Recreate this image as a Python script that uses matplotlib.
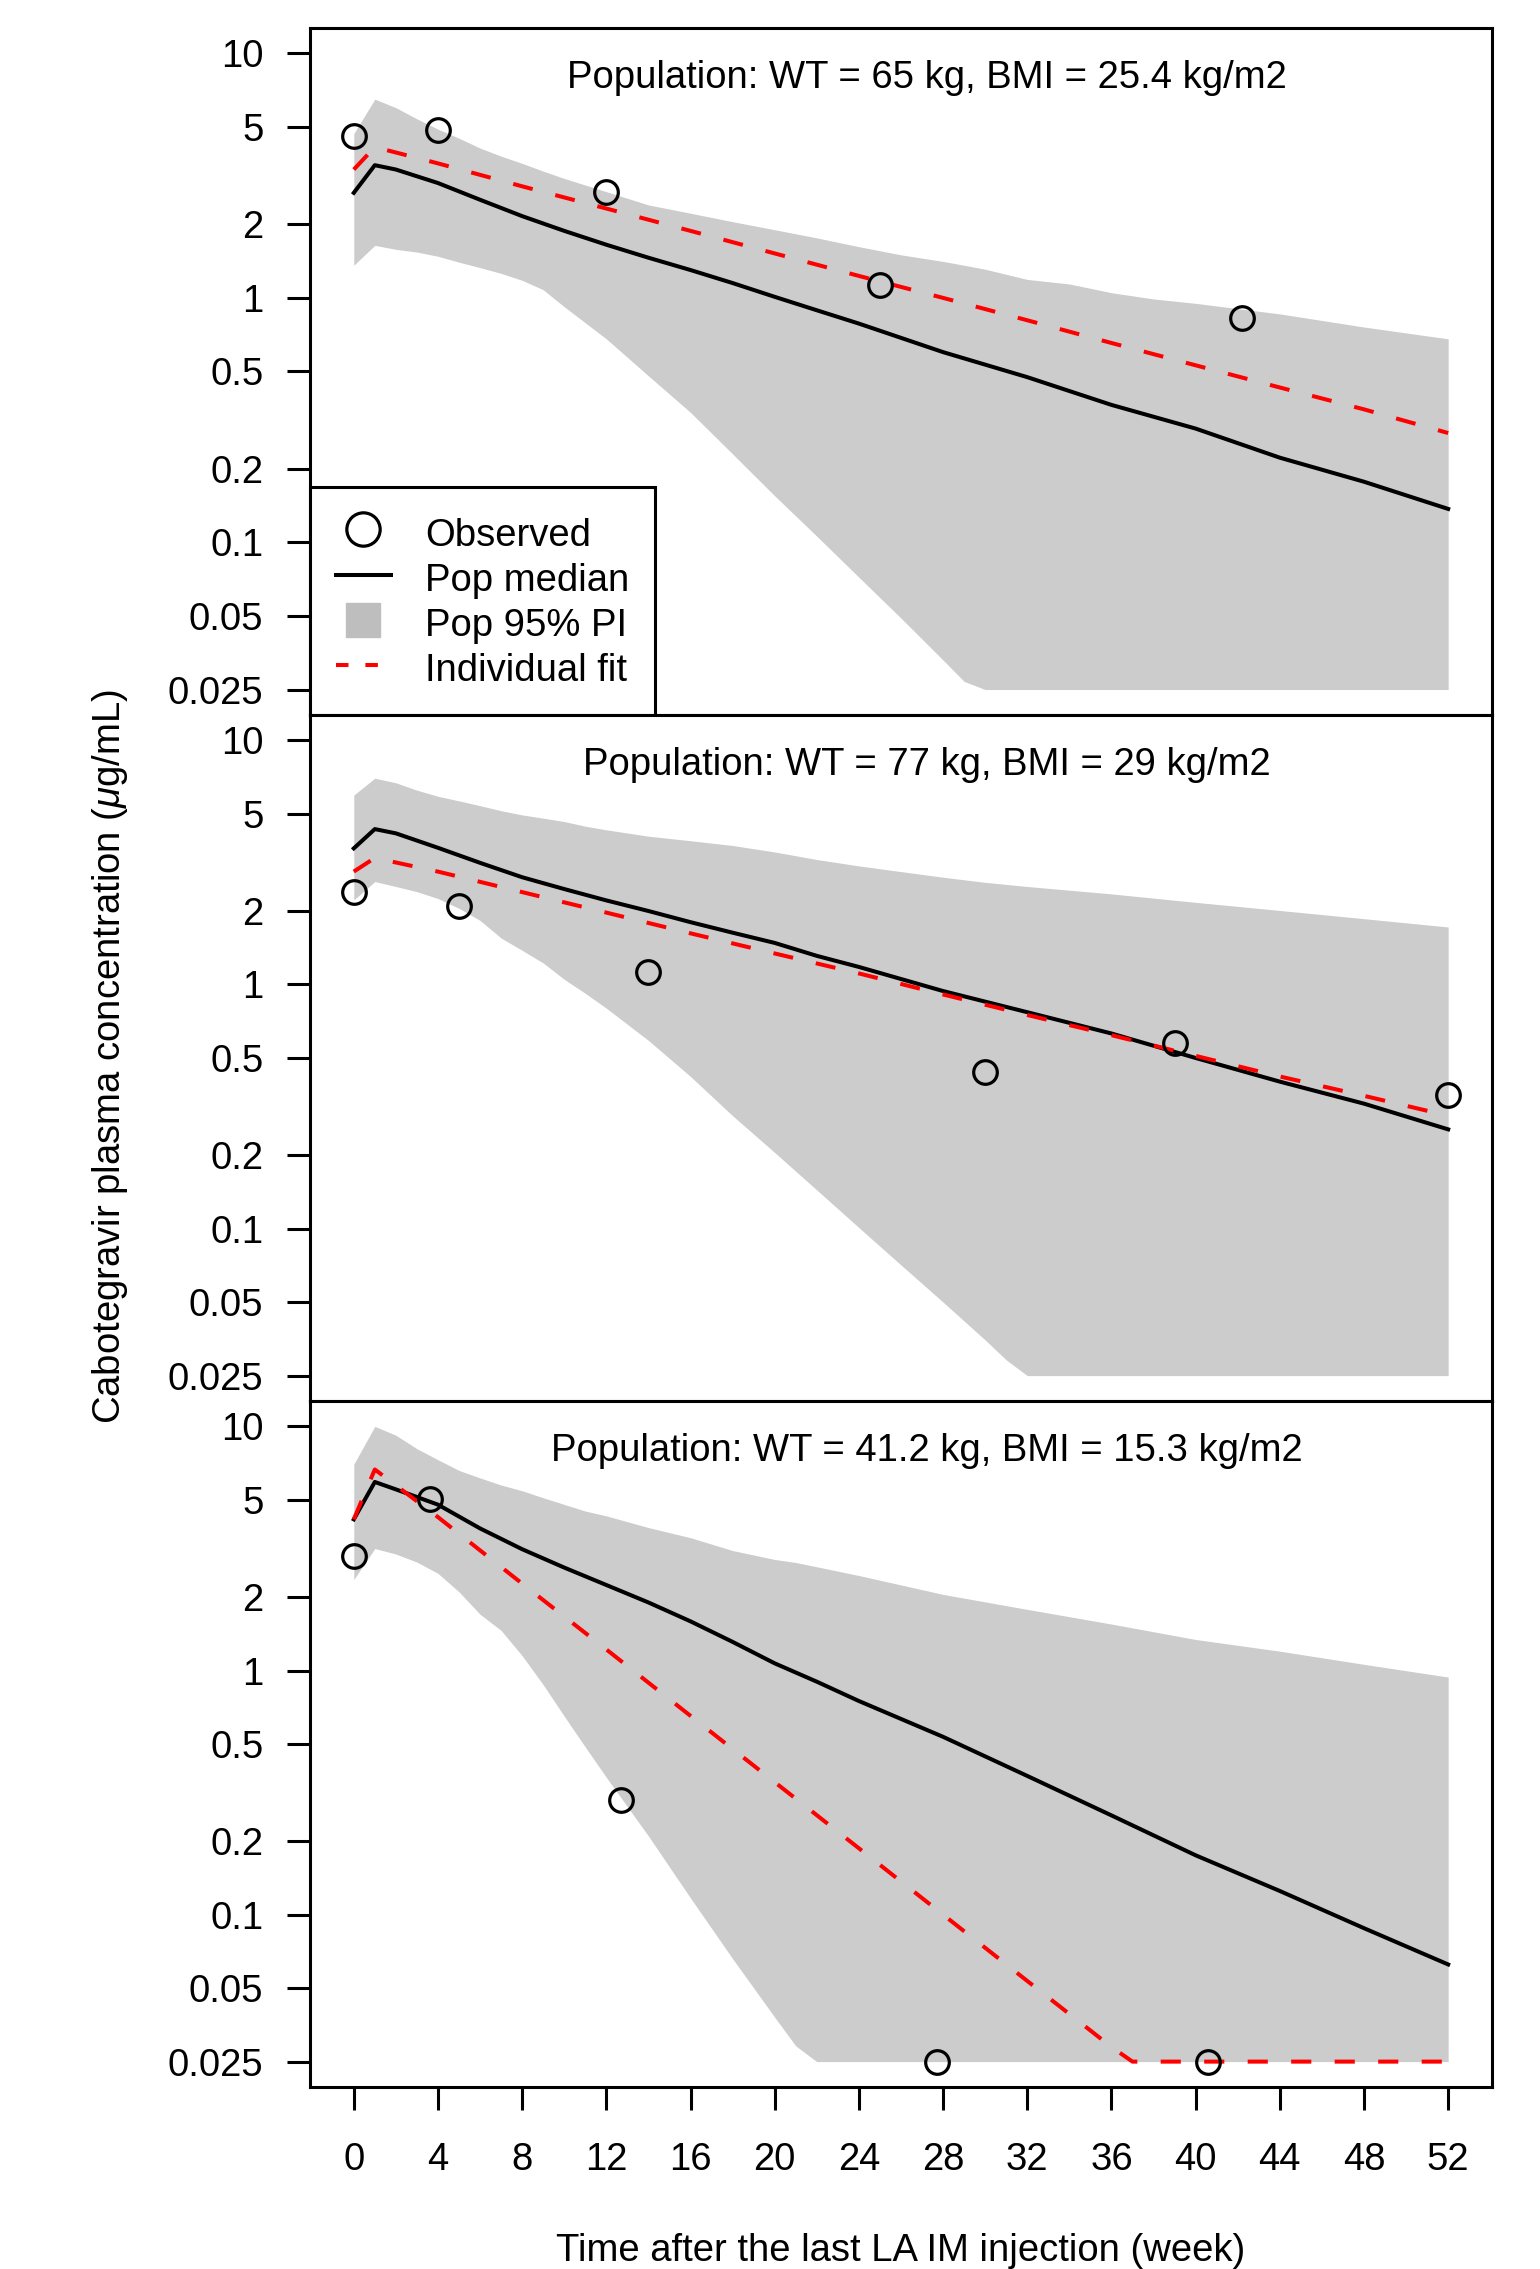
import matplotlib
matplotlib.use("Agg")
import matplotlib.pyplot as plt
from matplotlib.lines import Line2D
from matplotlib.ticker import NullLocator

plt.rcParams['font.family'] = ['Liberation Sans', 'DejaVu Sans']
plt.rcParams['mathtext.fontset'] = 'custom'
plt.rcParams['mathtext.rm'] = 'Liberation Sans'
plt.rcParams['mathtext.it'] = 'Liberation Sans:italic'

titles = ["Population: WT = 65 kg, BMI = 25.4 kg/m2",
          "Population: WT = 77 kg, BMI = 29 kg/m2",
          "Population: WT = 41.2 kg, BMI = 15.3 kg/m2"]

# observed concentrations
obs_wk = [[0, 4, 12, 25, 42.2],
          [0, 5, 14, 30, 39, 52],
          [0, 3.6, 12.7, 27.7, 40.6]]
obs_conc = [[4.6, 4.85, 2.7, 1.13, 0.825],
            [2.39, 2.09, 1.13, 0.44, 0.577, 0.353],
            [2.95, 5.04, 0.296, 0.025, 0.025]]

# population median
med_wk = [0, 1, 2, 4, 6, 8, 10, 12, 14, 16, 18, 20, 22, 24, 28, 32, 36, 40, 44, 48, 52]
med_conc = [[2.69, 3.49, 3.35, 2.95, 2.52, 2.16, 1.88, 1.65, 1.46, 1.30, 1.15, 1.01, 0.89, 0.785, 0.60, 0.474, 0.365, 0.292, 0.222, 0.177, 0.137],
            [3.61, 4.33, 4.16, 3.63, 3.15, 2.75, 2.46, 2.21, 2.00, 1.80, 1.63, 1.48, 1.31, 1.18, 0.94, 0.77, 0.63, 0.50, 0.40, 0.325, 0.255],
            [4.16, 5.92, 5.52, 4.78, 3.82, 3.14, 2.64, 2.24, 1.90, 1.59, 1.31, 1.07, 0.90, 0.75, 0.535, 0.37, 0.255, 0.175, 0.125, 0.088, 0.0625]]

# individual fit
fit_wk = [[0, 1, 4, 8, 12, 16, 20, 24, 28, 32, 36, 40, 44, 48, 52],
          [0, 1, 4, 8, 12, 16, 20, 24, 28, 32, 36, 40, 44, 48, 52],
          [0, 1, 4, 8, 12, 16, 20, 24, 28, 32, 36, 37, 40, 44, 48, 52]]
fit_conc = [[3.35, 4.14, 3.55, 2.86, 2.32, 1.88, 1.52, 1.23, 1.0, 0.81, 0.654, 0.53, 0.43, 0.35, 0.28],
            [2.90, 3.3, 2.90, 2.39, 1.97, 1.62, 1.34, 1.11, 0.91, 0.75, 0.62, 0.51, 0.42, 0.35, 0.29],
            [4.16, 6.66, 4.25, 2.27, 1.22, 0.652, 0.349, 0.187, 0.100, 0.0535, 0.0287, 0.025, 0.025, 0.025, 0.025, 0.025]]

# population 95% PI
pi_wk = [[0, 1, 2, 3, 4, 5, 6, 7, 8, 9, 10, 12, 14, 16, 18, 20, 22, 24, 26, 28, 29, 30, 32, 34, 36, 38, 40, 44, 48, 52],
         [0, 1, 2, 3, 4, 5, 6, 7, 8, 9, 10, 11, 12, 14, 16, 18, 20, 22, 24, 26, 28, 30, 31, 32, 36, 40, 44, 48, 52],
         [0, 1, 2, 3, 4, 5, 6, 7, 8, 9, 10, 11, 12, 14, 16, 18, 20, 21, 22, 24, 28, 32, 36, 40, 44, 48, 52]]
pi_hi = [[4.7, 6.5, 6.0, 5.4, 4.9, 4.5, 4.1, 3.8, 3.55, 3.3, 3.08, 2.72, 2.40, 2.22, 2.05, 1.90, 1.76, 1.62, 1.50, 1.41, 1.36, 1.31, 1.19, 1.14, 1.05, 0.99, 0.95, 0.86, 0.76, 0.68],
         [5.97, 7.0, 6.7, 6.25, 5.9, 5.65, 5.4, 5.15, 4.95, 4.8, 4.65, 4.45, 4.3, 4.05, 3.88, 3.71, 3.49, 3.25, 3.06, 2.90, 2.75, 2.62, 2.57, 2.52, 2.35, 2.17, 2.01, 1.86, 1.72],
         [7.0, 10.0, 9.2, 8.1, 7.3, 6.6, 6.15, 5.75, 5.45, 5.1, 4.79, 4.5, 4.3, 3.85, 3.5, 3.1, 2.85, 2.77, 2.66, 2.45, 2.05, 1.78, 1.55, 1.34, 1.2, 1.06, 0.94]]
pi_lo = [[1.36, 1.64, 1.58, 1.54, 1.48, 1.40, 1.33, 1.26, 1.18, 1.08, 0.92, 0.68, 0.48, 0.34, 0.23, 0.155, 0.106, 0.072, 0.049, 0.033, 0.027, 0.025, 0.025, 0.025, 0.025, 0.025, 0.025, 0.025, 0.025, 0.025],
         [2.22, 2.64, 2.52, 2.40, 2.25, 2.05, 1.83, 1.55, 1.38, 1.225, 1.05, 0.92, 0.80, 0.59, 0.42, 0.29, 0.205, 0.144, 0.101, 0.071, 0.050, 0.035, 0.029, 0.025, 0.025, 0.025, 0.025, 0.025, 0.025],
         [2.36, 3.16, 3.0, 2.78, 2.5, 2.1, 1.7, 1.46, 1.15, 0.875, 0.65, 0.486, 0.365, 0.21, 0.117, 0.066, 0.038, 0.029, 0.025, 0.025, 0.025, 0.025, 0.025, 0.025, 0.025, 0.025, 0.025]]

yticks = [10, 5, 2, 1, 0.5, 0.2, 0.1, 0.05, 0.025]
ytick_labels = ["10", "5", "2", "1", "0.5", "0.2", "0.1", "0.05", "0.025"]
xticks = list(range(0, 53, 4))

fs = 27.5
lw_axis = 2.2
lw_line = 2.9

fig = plt.figure(figsize=(15.4, 22.69), dpi=100)
bottoms = [0.6849, 0.38255, 0.08021]
heights = [0.30276, 0.30235, 0.30234]

for i in range(3):
    ax = fig.add_axes([0.2013, bottoms[i], 0.7675, heights[i]])
    ax.fill_between(pi_wk[i], pi_lo[i], pi_hi[i], color='#cccccc', lw=0, zorder=1)
    ax.plot(med_wk, med_conc[i], color='black', lw=lw_line, zorder=2)
    ax.plot(fit_wk[i], fit_conc[i], color='red', lw=lw_line, dashes=(5, 5.8), zorder=3)
    ax.plot(obs_wk[i], obs_conc[i], 'o', ms=17, mfc='none', mec='black', mew=2.3, zorder=4)

    ax.set_yscale('log')
    ax.set_xlim(-2.08, 54.08)
    ax.set_ylim(0.025 / 10**0.104, 10 * 10**0.104)
    ax.set_yticks(yticks)
    ax.set_yticklabels(ytick_labels)
    ax.yaxis.set_minor_locator(NullLocator())
    ax.tick_params(axis='both', length=16.5, width=lw_axis, labelsize=fs)
    ax.tick_params(axis='y', pad=17)
    ax.tick_params(axis='x', pad=23)
    for s in ax.spines.values():
        s.set_linewidth(lw_axis)

    if i < 2:
        ax.set_xticks([])
    else:
        ax.set_xticks(xticks)

    ax.text(0.522, 0.9272, titles[i], transform=ax.transAxes, ha='center', va='center', fontsize=fs)

    if i == 0:
        handles = [Line2D([], [], ls='none', marker='o', ms=24, mfc='none', mec='black', mew=2.3),
                   Line2D([], [], color='black', lw=lw_line),
                   Line2D([], [], ls='none', marker='s', ms=25, mfc='#bebebe', mec='#bebebe'),
                   Line2D([], [], color='red', lw=lw_line, dashes=(3.1, 4.2))]
        leg = ax.legend(handles, ["Observed", "Pop median", "Pop 95% PI", "Individual fit"],
                        loc='lower left', bbox_to_anchor=(0, 0), borderaxespad=0,
                        fontsize=fs, fancybox=False, framealpha=1, edgecolor='black',
                        handlelength=1.44, handleheight=1.186, handletextpad=0.89,
                        labelspacing=0.126, borderpad=0.68)
        leg.get_frame().set_linewidth(lw_axis)
        leg.set_zorder(10)

fig.text(0.0714, 0.5342, r"Cabotegravir plasma concentration ($\mu$g/mL)", rotation=90,
         ha='center', va='center', fontsize=fs)
fig.text(0.585, 0.0079, "Time after the last LA IM injection (week)", ha='center', va='center', fontsize=fs)

fig.savefig("out.png", dpi=100)
